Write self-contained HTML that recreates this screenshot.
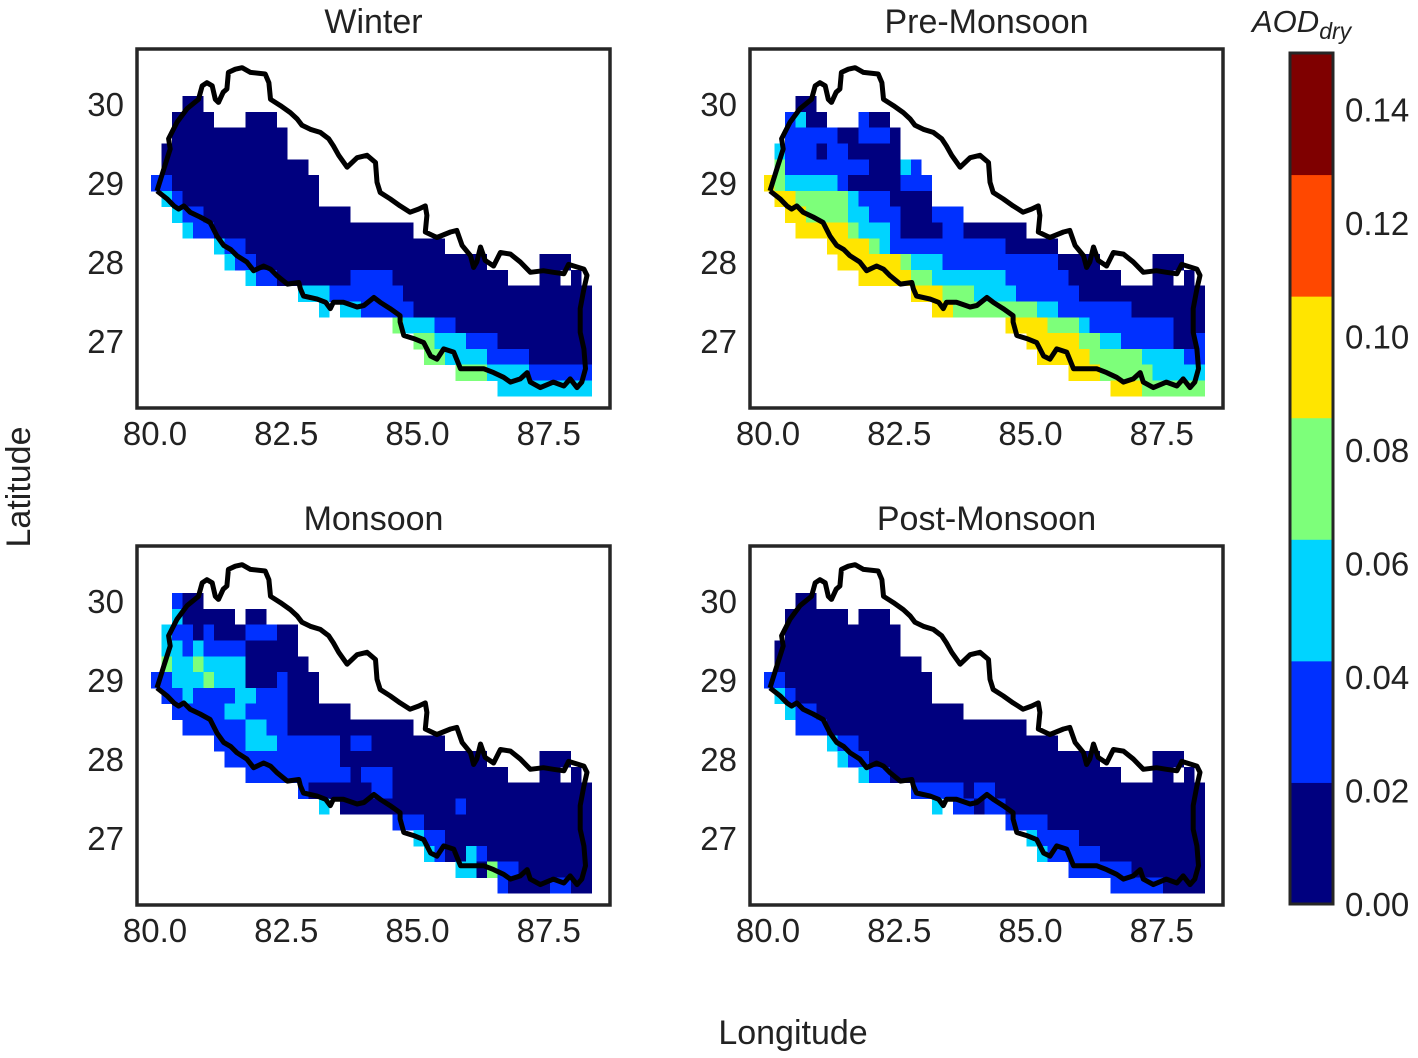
<!DOCTYPE html>
<html><head><meta charset="utf-8"><style>
html,body{margin:0;padding:0;background:#fff;}
svg{display:block;font-family:"Liberation Sans",Arial,sans-serif;}
</style></head><body>
<svg id="fig" width="1418" height="1058" viewBox="0 0 1418 1058">
<text x="30" y="487" font-size="34" fill="#222" text-anchor="middle" transform="rotate(-90 30 487)">Latitude</text>
<text x="793" y="1044" font-size="34" fill="#222" text-anchor="middle">Longitude</text>
<text x="1252" y="32" font-size="31" fill="#222" font-style="italic">AOD<tspan font-size="23" dy="7">dry</tspan></text>
<g id="panels"></g>
<g id="cbar"></g>
</svg>
<script>
const seasons = ["Winter","Pre-Monsoon","Monsoon","Post-Monsoon"];
const levelColors = ["#00007f","#0030ff","#00d4ff","#7dff7a","#ffe500","#ff4800","#7f0000"];
const cbarTicks = [0.00,0.02,0.04,0.06,0.08,0.10,0.12,0.14];
const xTicks = [80.0,82.5,85.0,87.5];
const yTicks = [30,29,28,27];
const gridLon0 = 79.9, gridLat0 = 30.1, gridStep = 0.2;
const vmax = 0.15;
const nepalLon = [80.02,80.15,80.27,80.24,80.40,80.59,80.81,80.88,80.97,81.07,81.13,81.19,81.28,81.35,81.38,81.51,81.64,81.80,82.08,82.15,82.18,82.37,82.56,82.69,82.78,82.94,83.13,83.29,83.38,83.48,83.64,83.83,84.02,84.18,84.21,84.27,84.46,84.65,84.84,85.00,85.13,85.16,85.13,85.35,85.61,85.73,85.83,85.99,86.05,86.11,86.18,86.27,86.43,86.56,86.75,86.94,87.13,87.38,87.57,87.77,87.86,88.15,88.21,88.15,88.08,88.08,88.15,88.18,88.11,88.02,87.89,87.77,87.57,87.32,87.13,87.07,86.94,86.75,86.62,86.43,86.24,85.99,85.80,85.67,85.48,85.35,85.23,85.10,84.91,84.72,84.65,84.65,84.46,84.27,84.15,83.96,83.83,83.57,83.38,83.32,83.23,83.07,82.81,82.75,82.72,82.50,82.30,82.18,82.05,81.86,81.73,81.54,81.42,81.29,81.16,81.03,80.84,80.65,80.53,80.43,80.34,80.21,80.02];
const nepalLat = [28.90,29.18,29.43,29.56,29.77,29.94,30.06,30.23,30.27,30.23,30.06,30.02,30.15,30.19,30.40,30.44,30.46,30.40,30.38,30.27,30.06,29.98,29.89,29.81,29.73,29.68,29.64,29.56,29.47,29.35,29.20,29.32,29.35,29.26,29.01,28.88,28.80,28.71,28.63,28.67,28.71,28.59,28.38,28.31,28.38,28.40,28.21,28.08,27.93,28.00,28.19,28.02,27.95,28.12,28.10,28.00,27.87,27.89,27.87,27.85,27.97,27.91,27.83,27.66,27.41,27.11,26.90,26.65,26.48,26.41,26.52,26.43,26.48,26.41,26.48,26.60,26.52,26.48,26.54,26.60,26.65,26.65,26.65,26.86,26.90,26.77,26.81,26.98,27.03,27.07,27.24,27.32,27.41,27.49,27.55,27.45,27.43,27.49,27.49,27.41,27.49,27.53,27.57,27.66,27.74,27.72,27.83,27.91,27.95,27.89,28.00,28.08,28.16,28.21,28.33,28.50,28.57,28.63,28.71,28.67,28.71,28.80,28.90];
// run-length rows: "char*count", char = colour bin index, "." = no data
const winterRows = [".*3 0*2",".*2 0*4 .*3 0*3",".*2 0*11",".*1 0*12",".*1 0*14","1*2 0*14",".*1 2*1 1*1 0*13",".*2 2*1 1*2 0*14",".*3 2*1 1*2 0*19",".*6 2*1 1*2 0*19",".*7 2*1 1*2 0*22 .*5 0*3",".*9 2*1 1*2 0*7 1*4 0*11 .*3 0*2 .*1 0*1",".*14 2*3 1*7 0*18",".*16 2*1 .*1 2*2 1*5 0*17",".*23 3*1 2*3 1*2 0*13",".*25 3*2 2*3 1*3 0*9",".*26 3*2 2*4 1*4 0*6",".*29 3*3 2*4 1*6",".*33 2*9"];
const preMonsoonRows = [".*3 0*2",".*2 1*1 2*1 0*2 .*3 1*1 0*2",".*2 1*5 0*2 1*3 0*1",".*1 2*1 1*3 0*1 1*2 0*5",".*1 3*1 1*8 0*3 2*1 1*1","4*1 3*1 2*5 1*1 0*5 1*3",".*1 4*2 3*5 2*1 1*3 0*4",".*2 4*2 3*4 2*2 1*3 0*3 1*3",".*3 4*5 3*1 2*3 1*1 0*4 1*2 0*6",".*6 4*4 3*1 2*1 1*11 0*5",".*7 4*6 3*1 2*3 1*11 0*4 .*5 0*3",".*9 4*5 3*2 2*7 1*6 0*5 .*3 0*2 .*1 0*1",".*14 4*3 3*3 2*4 1*6 0*12",".*16 4*2 3*8 2*2 1*7 0*7",".*23 4*4 3*3 2*1 1*8 0*3",".*25 4*5 3*2 2*2 1*5 0*2 1*1",".*26 4*5 3*5 2*4 1*2",".*29 4*3 3*5 2*5",".*33 4*3 3*6"];
const monsoonRows = [".*2 1*1 0*2",".*2 2*1 0*5 .*1 0*2",".*1 2*1 1*2 0*1 1*1 0*3 1*3 0*2",".*1 2*2 1*1 2*1 1*4 0*5",".*1 3*1 2*2 3*1 2*4 0*6","1*2 2*3 3*1 2*3 0*3 1*1 0*3",".*1 1*2 2*1 1*4 2*2 1*3 0*3",".*2 1*5 2*2 1*4 0*6",".*3 1*6 2*2 1*2 0*12",".*6 1*3 2*3 1*6 0*1 1*2 0*7",".*7 1*11 0*14 .*5 0*3",".*9 1*10 0*1 1*3 0*11 .*3 0*2 .*1 0*1",".*14 1*1 0*6 1*2 0*19",".*16 2*1 .*1 0*11 1*1 0*12",".*23 1*3 0*16",".*25 2*1 1*2 0*14",".*26 2*1 1*1 0*2 2*1 1*1 0*10",".*29 2*2 0*1 3*1 1*2 0*7",".*33 1*1 0*4 1*2 0*2"];
const postMonsoonRows = [".*3 0*2",".*2 0*6 .*1 0*3",".*2 0*11",".*1 0*12",".*1 0*14","1*2 0*14",".*1 2*1 1*1 0*13",".*2 2*1 1*2 0*14",".*3 1*3 0*19",".*6 2*1 1*2 0*19",".*7 2*1 1*2 0*22 .*5 0*3",".*9 2*1 1*2 0*22 .*3 0*2 .*1 0*1",".*14 1*5 0*1 1*2 0*20",".*16 2*1 .*1 1*2 0*1 1*2 0*19",".*23 1*4 0*15",".*25 2*1 1*4 0*12",".*26 2*1 1*5 0*10",".*29 1*6 0*7",".*33 1*5 0*4"];
const seasonRows = [winterRows, preMonsoonRows, monsoonRows, postMonsoonRows];
const panelBoxes = [[137,49],[750,49],[137,546],[750,546]];
const PW = 473, PH = 359, DX = 52.5, DY = 79;

const NS = "http://www.w3.org/2000/svg";
function mk(tag, attrs, parent){const e=document.createElementNS(NS,tag);for(const k in attrs)e.setAttribute(k,attrs[k]);parent.appendChild(e);return e;}
function decode(row){const out=[];row.split(" ").forEach(t=>{const [ch,n]=t.split("*");for(let i=0;i<+n;i++)out.push(ch==="."?null:(+ch+0.5)*vmax/7);});return out;}
function colorFor(v){let i=Math.floor(v/vmax*7);if(i>6)i=6;if(i<0)i=0;return levelColors[i];}

const panels = document.getElementById("panels");
seasons.forEach((name, p) => {
  const [L, T] = panelBoxes[p];
  const xS = lon => L + 19 + (lon - 80) * DX;
  const yS = lat => T + 55 + (30 - lat) * DY;
  const g = mk("g", {}, panels);
  
  
  const title = mk("text", {x: L + PW/2, y: T - 16, "font-size": 34, fill: "#222", "text-anchor": "middle"}, g);
  title.textContent = name;
  
  
  const cells = mk("g", {"shape-rendering": "crispEdges"}, g);
  
  
  seasonRows[p].forEach((row, r) => {
    const vals = decode(row);
    const latTop = gridLat0 - gridStep * r;
    vals.forEach((v, c) => {
      if (v === null) return;
      const lonL = gridLon0 + gridStep * c;
      const x0 = xS(lonL), x1 = xS(lonL + gridStep), y0 = yS(latTop), y1 = yS(latTop - gridStep);
      const rc = mk("rect", {x: x0.toFixed(2), y: y0.toFixed(2), width: (x1 - x0 + 0.4).toFixed(2), height: (y1 - y0 + 0.4).toFixed(2), fill: colorFor(v)}, cells);
      
      
    });
  });
  const pts = nepalLon.map((lo, i) => xS(lo).toFixed(1) + "," + yS(nepalLat[i]).toFixed(1)).join(" ");
  const outline = mk("polyline", {points: pts, fill: "none", stroke: "#000", "stroke-width": 5, "stroke-linejoin": "round"}, g);
  
  
  const frame = mk("rect", {x: L, y: T, width: PW, height: PH, fill: "none", stroke: "#262626", "stroke-width": 3.5}, g);
  
  
  xTicks.forEach(t => {
    const tx = mk("text", {x: xS(t) - 1, y: T + PH + 37, "font-size": 33, fill: "#222", "text-anchor": "middle"}, g);
    tx.textContent = t.toFixed(1);
    
    
  });
  yTicks.forEach(t => {
    const ty = mk("text", {x: L - 13, y: yS(t) + 12, "font-size": 33, fill: "#222", "text-anchor": "end"}, g);
    ty.textContent = String(t);
    
    
  });
});

const cb = document.getElementById("cbar");
const CBX = 1290, CBW = 43, CBT = 53, CBB = 904;
const cbY = v => CBB - v / vmax * (CBB - CBT);
levelColors.forEach((col, i) => {
  const a = i * vmax / 7, b = (i + 1) * vmax / 7;
  const r = mk("rect", {x: CBX, y: cbY(b), width: CBW, height: cbY(a) - cbY(b) + 0.5, fill: col}, cb);
  
  
});
const cbf = mk("rect", {x: CBX, y: CBT, width: CBW, height: CBB - CBT, fill: "none", stroke: "#262626", "stroke-width": 3}, cb);


cbarTicks.forEach(t => {
  const tt = mk("text", {x: 1345, y: cbY(t) + 12, "font-size": 33, fill: "#222"}, cb);
  tt.textContent = t.toFixed(2);
  
  
});
</script>
</body></html>
